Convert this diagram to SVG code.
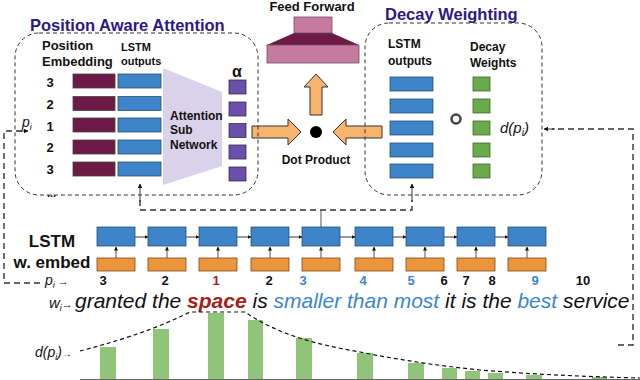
<svg xmlns="http://www.w3.org/2000/svg" width="640" height="380" viewBox="0 0 640 380">
<defs>
<style>
.t{font-family:"Liberation Sans",Arial,sans-serif;font-weight:bold;fill:#111}
.title{font-family:"Liberation Sans",Arial,sans-serif;font-weight:bold;font-size:16.5px;fill:#2b1a86}
.it{font-family:"Liberation Sans",Arial,sans-serif;font-style:italic;fill:#111}
.box{fill:none;stroke:#333;stroke-width:1;stroke-dasharray:4,3}
.dash{fill:none;stroke:#333;stroke-width:1.4;stroke-dasharray:6,4}
.emb{fill:#6e1a47;stroke:#444;stroke-width:0.8}
.ls{fill:#3d84c8;stroke:#2a4f7a;stroke-width:0.8}
.or{fill:#ec953a;stroke:#7a4a1a;stroke-width:0.8}
.pu{fill:#6c4eae;stroke:#333;stroke-width:0.8}
.gr{fill:#6aaa4b;stroke:#3d6a2a;stroke-width:0.8}
.bar{fill:#8fc479}
.arr{fill:#f7b46c;stroke:#333;stroke-width:1}
.ln{stroke:#222;stroke-width:0.9;fill:none}
.up{stroke:#555;stroke-width:1;fill:none}
.num{font-family:"Liberation Sans",Arial,sans-serif;font-weight:bold;font-size:13px;text-anchor:middle;fill:#111}
.blue{fill:#3b86c8}
.red{fill:#a81c1c}
</style>
<marker id="ah" viewBox="0 0 10 10" refX="9" refY="5" markerWidth="5" markerHeight="5" orient="auto"><path d="M0,0L10,5L0,10z" fill="#111"/></marker>
<marker id="ahs" viewBox="0 0 10 10" refX="9" refY="5" markerWidth="4" markerHeight="4" orient="auto"><path d="M0,0L10,5L0,10z" fill="#111"/></marker>
</defs>

<!-- connectors -->
<g id="connectors">
<polyline class="dash" points="40,283 4,283 4,131 22,131"/>
<line class="ln" x1="20" y1="131" x2="28" y2="131" marker-end="url(#ah)"/>
<polyline class="dash" points="140,200 140,210 412,210 412,200"/>
<line class="ln" x1="140" y1="202" x2="140" y2="184" marker-end="url(#ah)"/>
<line class="ln" x1="412" y1="202" x2="412" y2="184" marker-end="url(#ah)"/>
<line class="up" x1="321" y1="210" x2="321" y2="227"/>
<polyline class="dash" points="618,345 633,345 633,129 552,129"/>
<line class="ln" x1="555" y1="129" x2="544" y2="129" marker-end="url(#ah)"/>
<g class="ln">
<line x1="135" y1="237" x2="148" y2="237" marker-end="url(#ahs)"/>
<line x1="186" y1="237" x2="199" y2="237" marker-end="url(#ahs)"/>
<line x1="237" y1="237" x2="251" y2="237" marker-end="url(#ahs)"/>
<line x1="289" y1="237" x2="302" y2="237" marker-end="url(#ahs)"/>
<line x1="340" y1="237" x2="355" y2="237" marker-end="url(#ahs)"/>
<line x1="393" y1="237" x2="406" y2="237" marker-end="url(#ahs)"/>
<line x1="444" y1="237" x2="457" y2="237" marker-end="url(#ahs)"/>
<line x1="495" y1="237" x2="508" y2="237" marker-end="url(#ahs)"/>
</g>
<g class="up">
<line x1="116" y1="258" x2="116" y2="247" marker-end="url(#ahs)"/>
<line x1="167" y1="258" x2="167" y2="247" marker-end="url(#ahs)"/>
<line x1="218" y1="258" x2="218" y2="247" marker-end="url(#ahs)"/>
<line x1="270" y1="258" x2="270" y2="247" marker-end="url(#ahs)"/>
<line x1="321" y1="258" x2="321" y2="247" marker-end="url(#ahs)"/>
<line x1="374" y1="258" x2="374" y2="247" marker-end="url(#ahs)"/>
<line x1="425" y1="258" x2="425" y2="247" marker-end="url(#ahs)"/>
<line x1="476" y1="258" x2="476" y2="247" marker-end="url(#ahs)"/>
<line x1="527" y1="258" x2="527" y2="247" marker-end="url(#ahs)"/>
</g>
<path class="arr" d="M252,126H288V119L301,132L288,145V138H252Z"/>
<path class="arr" d="M382,126H346V119L333,132L346,145V138H382Z"/>
<path class="arr" d="M310,115V87H304L316,74L328,87H322V115Z"/>
</g>

<!-- Position Aware Attention -->
<g id="position-attention">
<text class="title" x="30" y="31">Position Aware Attention</text>
<rect class="box" x="15" y="33" width="243" height="162" rx="24"/>
<text class="t" font-size="13" x="42" y="50">Position</text>
<text class="t" font-size="13" x="42" y="66">Embedding</text>
<text class="t" font-size="11" x="121" y="51">LSTM</text>
<text class="t" font-size="11" x="121" y="65">outputs</text>
<text class="it" font-size="14" x="22" y="127">p<tspan font-size="9" dy="3">i</tspan></text>
<g class="num" font-size="14">
<text x="50" y="87">3</text><text x="50" y="109">2</text><text x="50" y="131">1</text><text x="50" y="152">2</text><text x="50" y="174">3</text>
</g>
<rect class="emb" x="73" y="74" width="42" height="14"/>
<rect class="emb" x="73" y="96.5" width="42" height="14"/>
<rect class="emb" x="73" y="118" width="42" height="14"/>
<rect class="emb" x="73" y="140" width="42" height="14"/>
<rect class="emb" x="73" y="162" width="42" height="14"/>
<rect class="ls" x="118" y="74" width="43" height="14"/>
<rect class="ls" x="118" y="96.5" width="43" height="14"/>
<rect class="ls" x="118" y="118" width="43" height="14"/>
<rect class="ls" x="118" y="140" width="43" height="14"/>
<rect class="ls" x="118" y="162" width="43" height="14"/>
<text class="t" font-size="11" x="47" y="197">...</text>
</g>

<g id="attention-subnetwork">
<polygon points="163,68 222,92 222,166 163,185" fill="#d9d2ea"/>
<text class="t" font-size="12" x="170" y="120">Attention</text>
<text class="t" font-size="12" x="170" y="134">Sub</text>
<text class="t" font-size="12" x="170" y="149">Network</text>
</g>

<g id="alpha">
<text class="t" font-size="16" x="237" y="77" text-anchor="middle">α</text>
<rect class="pu" x="229" y="80" width="17" height="14"/>
<rect class="pu" x="229" y="102" width="17" height="14"/>
<rect class="pu" x="229" y="123.5" width="17" height="14"/>
<rect class="pu" x="229" y="145" width="17" height="14"/>
<rect class="pu" x="229" y="167" width="17" height="14"/>
</g>

<g id="dot-product">
<circle cx="316" cy="132" r="6" fill="#000"/>
<text class="t" font-size="12" x="316" y="164" text-anchor="middle">Dot Product</text>
</g>

<g id="feed-forward">
<text class="t" font-size="13" x="312" y="11" text-anchor="middle">Feed Forward</text>
<polygon points="294,33 332,33 359,45 267,45" fill="#6e1a47"/>
<rect x="294" y="17" width="38" height="16" fill="#c77aa0" stroke="#6a5060" stroke-width="0.8"/>
<rect x="267" y="45" width="92" height="18" fill="#c77aa0" stroke="#6a5060" stroke-width="0.8"/>
</g>

<!-- Decay Weighting -->
<g id="decay-weighting">
<text class="title" x="385" y="20">Decay Weighting</text>
<rect class="box" x="365" y="23" width="177" height="172" rx="24"/>
<text class="t" font-size="12" x="388" y="48">LSTM</text>
<text class="t" font-size="12" x="388" y="65">outputs</text>
<text class="t" font-size="12" x="470" y="51">Decay</text>
<text class="t" font-size="12" x="470" y="67">Weights</text>
<rect class="ls" x="390" y="77" width="43" height="14"/>
<rect class="ls" x="390" y="99" width="43" height="14"/>
<rect class="ls" x="390" y="121" width="43" height="14"/>
<rect class="ls" x="390" y="143" width="43" height="14"/>
<rect class="ls" x="390" y="164" width="43" height="14"/>
<circle cx="456" cy="119" r="4.5" fill="none" stroke="#444" stroke-width="2.5"/>
<rect class="gr" x="473" y="77" width="17" height="14"/>
<rect class="gr" x="473" y="99" width="17" height="14"/>
<rect class="gr" x="473" y="121" width="17" height="14"/>
<rect class="gr" x="473" y="143" width="17" height="14"/>
<rect class="gr" x="473" y="164" width="17" height="14"/>
<text class="it" font-size="15" x="500" y="133">d(p<tspan font-size="10" dy="3">i</tspan><tspan dy="-3">)</tspan></text>
</g>

<!-- LSTM chain -->
<g id="lstm-chain">
<text class="t" font-size="17" x="52" y="247" text-anchor="middle">LSTM</text>
<text class="t" font-size="17" x="52" y="268" text-anchor="middle">w. embed</text>
<rect class="ls" x="97" y="227" width="38" height="19"/>
<rect class="ls" x="148" y="227" width="38" height="19"/>
<rect class="ls" x="199" y="227" width="38" height="19"/>
<rect class="ls" x="251" y="227" width="38" height="19"/>
<rect class="ls" x="302" y="227" width="38" height="19"/>
<rect class="ls" x="355" y="227" width="38" height="19"/>
<rect class="ls" x="406" y="227" width="38" height="19"/>
<rect class="ls" x="457" y="227" width="38" height="19"/>
<rect class="ls" x="508" y="227" width="38" height="19"/>
<rect class="or" x="97" y="258" width="38" height="13"/>
<rect class="or" x="148" y="258" width="38" height="13"/>
<rect class="or" x="199" y="258" width="38" height="13"/>
<rect class="or" x="251" y="258" width="38" height="13"/>
<rect class="or" x="302" y="258" width="38" height="13"/>
<rect class="or" x="355" y="258" width="38" height="13"/>
<rect class="or" x="406" y="258" width="38" height="13"/>
<rect class="or" x="457" y="258" width="38" height="13"/>
<rect class="or" x="508" y="258" width="38" height="13"/>
</g>

<g id="positions">
<text class="it" font-size="14" x="45" y="285">p<tspan font-size="9" dy="3">i</tspan><tspan font-size="11" dy="-3"> →</tspan></text>
<text class="num" x="103" y="285">3</text>
<text class="num" x="165" y="285">2</text>
<text class="num red" x="216" y="285">1</text>
<text class="num" x="269" y="285">2</text>
<text class="num blue" x="303" y="285">3</text>
<text class="num blue" x="363" y="285">4</text>
<text class="num blue" x="411" y="285">5</text>
<text class="num" x="444" y="285">6</text>
<text class="num" x="466" y="285">7</text>
<text class="num" x="492" y="285">8</text>
<text class="num blue" x="535" y="285">9</text>
<text class="num" x="583" y="285">10</text>
</g>
<g id="words">
<text class="it" font-size="15" x="49" y="308">w<tspan font-size="9" dy="3">i</tspan><tspan font-size="11" dy="-3">→</tspan></text>
<text class="it" font-size="21" x="75" y="308">granted the <tspan class="red" font-weight="bold">space</tspan> is <tspan class="blue">smaller than most</tspan> it is the <tspan class="blue">best</tspan> service</text>
</g>

<g id="decay-chart">
<text class="it" font-size="14" x="35" y="357">d(p<tspan font-size="9" dy="3">i</tspan><tspan dy="-3">)</tspan><tspan font-size="10">→</tspan></text>
<rect class="bar" x="100" y="347" width="16" height="33"/>
<rect class="bar" x="153" y="329" width="16" height="51"/>
<rect class="bar" x="208" y="313" width="16" height="67"/>
<rect class="bar" x="248" y="320" width="15" height="60"/>
<rect class="bar" x="296" y="338" width="16" height="42"/>
<rect class="bar" x="357" y="353" width="16" height="27"/>
<rect class="bar" x="408" y="363" width="16" height="17"/>
<rect class="bar" x="442" y="368" width="15" height="12"/>
<rect class="bar" x="465" y="371" width="15" height="9"/>
<rect class="bar" x="488" y="373" width="15" height="7"/>
<rect class="bar" x="526" y="375" width="16" height="5"/>
<rect class="bar" x="592" y="377" width="15" height="3"/>
<line x1="80" y1="379.5" x2="640" y2="379.5" stroke="#666" stroke-width="1"/>
<path d="M80,351 C110,343 150,332 190,312 L245,312 C280,336 320,345 360,352 C400,360 440,366 480,370 C540,375 600,377 640,378" fill="none" stroke="#111" stroke-width="1.2" stroke-dasharray="4,3"/>
</g>
</svg>
